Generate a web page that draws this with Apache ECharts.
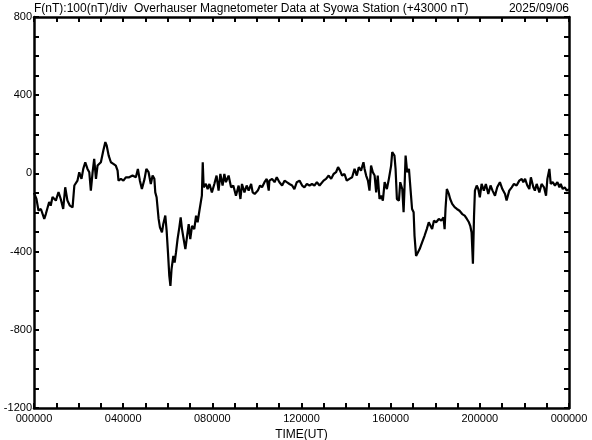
<!DOCTYPE html>
<html>
<head>
<meta charset="utf-8">
<script src="https://cdn.jsdelivr.net/npm/echarts@6/dist/echarts.min.js"></script>
<style>
html,body{margin:0;padding:0;background:#fff;}
#chart{width:592px;height:440px;}
</style>
</head>
<body>
<div id="chart"></div>
<script>
// Time of day in hours (UT)
const timesH = [
0.00,0.05,0.11,0.20,0.31,0.46,0.53,0.68,0.75,0.83,0.98,1.10,1.20,1.31,1.40,1.50,1.61,1.73,1.81,1.95,
2.03,2.13,2.21,2.30,2.40,2.48,2.55,2.63,2.70,2.78,2.85,2.93,3.00,3.11,3.20,3.26,3.35,3.45,3.56,3.67,
3.75,3.79,3.90,4.01,4.12,4.27,4.42,4.57,4.66,4.75,4.84,4.96,5.04,5.14,5.24,5.32,5.40,5.44,5.50,5.59,
5.65,5.74,5.80,5.89,5.95,6.01,6.07,6.12,6.17,6.25,6.31,6.37,6.44,6.52,6.58,6.64,6.70,6.79,6.86,6.94,
7.01,7.09,7.19,7.27,7.34,7.42,7.49,7.53,7.57,7.61,7.71,7.79,7.87,7.98,8.09,8.19,8.28,8.36,8.46,8.54,
8.61,8.73,8.84,8.94,9.06,9.18,9.26,9.33,9.44,9.54,9.63,9.74,9.81,9.90,10.04,10.14,10.23,10.34,10.44,10.53,
10.56,10.68,10.79,10.89,11.01,11.13,11.24,11.34,11.46,11.58,11.68,11.79,11.91,12.03,12.13,12.24,12.36,12.47,12.58,12.69,
12.81,12.88,12.99,13.10,13.22,13.33,13.44,13.55,13.64,13.73,13.82,13.93,14.03,14.15,14.27,14.38,14.48,14.57,14.67,14.78,
14.83,14.90,14.98,15.05,15.12,15.20,15.28,15.35,15.42,15.50,15.57,15.65,15.73,15.83,15.92,16.02,16.07,16.17,16.22,16.28,
16.37,16.43,16.52,16.58,16.62,16.67,16.74,16.82,16.89,16.96,17.03,17.07,17.14,17.22,17.30,17.41,17.52,17.62,17.71,17.77,
17.86,17.94,18.04,18.16,18.27,18.37,18.42,18.46,18.52,18.61,18.67,18.76,18.87,18.97,19.09,19.21,19.32,19.42,19.51,19.57,
19.63,19.69,19.74,19.78,19.86,19.93,20.00,20.08,20.18,20.27,20.38,20.48,20.57,20.68,20.78,20.90,21.01,21.13,21.20,21.32,
21.43,21.53,21.65,21.77,21.88,21.95,22.03,22.13,22.22,22.29,22.40,22.47,22.55,22.67,22.77,22.88,22.97,23.03,23.12,23.18,
23.27,23.37,23.48,23.57,23.63,23.72,23.81,23.90,24.00
];
// F deviation from 43000 nT
const fieldNT = [
-100,-105,-130,-190,-182,-233,-208,-146,-165,-121,-139,-95,-131,-182,-71,-139,-165,-174,-62,-37,
6,-28,23,57,23,6,-88,6,74,-28,40,32,57,117,160,143,91,57,49,40,
14,-37,-28,-37,-20,-20,-11,-20,23,-37,-80,-28,23,6,-54,-11,-28,-97,-122,-233,
-276,-302,-259,-216,-293,-404,-524,-575,-490,-422,-456,-404,-336,-276,-225,-285,-327,-387,-327,-259,
-336,-268,-285,-216,-250,-191,-182,-114,57,-71,-54,-80,-54,-97,-54,-11,-88,-3,-62,-3,
-45,-11,-71,-62,-114,-62,-131,-54,-97,-62,-88,-54,-97,-105,-88,-62,-71,-45,-28,-88,
-37,-28,-45,-20,-45,-62,-37,-45,-54,-62,-80,-45,-37,-62,-71,-54,-62,-54,-62,-45,
-62,-71,-37,-28,-11,-28,-3,6,32,14,-11,-3,-37,-28,-20,23,-11,32,14,57,
23,-11,-37,-88,40,6,-11,-97,-11,-131,-114,-139,-45,-80,-28,40,109,91,23,-131,
-139,-45,-80,-199,-80,91,6,23,-80,-182,-199,-319,-422,-413,-387,-353,-319,-285,-250,-242,
-285,-242,-250,-233,-242,-225,-285,-182,-80,-105,-131,-156,-173,-182,-191,-208,-216,-233,-250,-268,
-302,-462,-216,-88,-62,-80,-122,-54,-88,-54,-105,-62,-88,-114,-71,-45,-80,-105,-139,-88,
-71,-54,-62,-37,-28,-45,-28,-62,-80,-20,-71,-88,-54,-97,-54,-71,-114,-28,23,-54,
-45,-62,-45,-71,-54,-80,-71,-88,-80
];
const xTickLabels = ['000000','040000','080000','120000','160000','200000','000000'];
const yTickLabels = ['-1200','-800','-400','0','400','800'];
const titleText = 'F(nT):100(nT)/div  Overhauser Magnetometer Data at Syowa Station (+43000 nT)';
const dateText = '2025/09/06';

const seriesData = timesH.map((t, i) => [t, fieldNT[i]]);
const FONT = '"Liberation Sans", Arial, sans-serif';
const lineCol = '#000';

function xAxisCfg(pos, showLabels) {
  return {
    type: 'value', min: 0, max: 24, interval: 4, position: pos,
    axisLine: { show: true, onZero: false, lineStyle: { color: lineCol, width: 2.5 } },
    axisTick: { show: true, inside: true, length: 5, lineStyle: { color: lineCol, width: 2 } },
    minorTick: { show: true, splitNumber: 4, length: 5, lineStyle: { color: lineCol, width: 2 } },
    splitLine: { show: false },
    axisLabel: {
      show: showLabels, margin: 5, fontSize: 11, fontFamily: FONT, color: '#000',
      formatter: (v) => xTickLabels[Math.round(v / 4)]
    },
    name: showLabels ? 'TIME(UT)' : '',
    nameLocation: 'middle', nameGap: 20,
    nameTextStyle: { fontSize: 12, fontFamily: FONT, color: '#000' }
  };
}
function yAxisCfg(pos, showLabels) {
  return {
    type: 'value', min: -1200, max: 800, interval: 400, position: pos,
    axisLine: { show: true, onZero: false, lineStyle: { color: lineCol, width: 2.5 } },
    axisTick: { show: true, inside: true, length: 5, lineStyle: { color: lineCol, width: 2 } },
    minorTick: { show: true, splitNumber: 4, length: 5, lineStyle: { color: lineCol, width: 2 } },
    splitLine: { show: false },
    axisLabel: {
      show: showLabels, margin: 2, fontSize: 11, fontFamily: FONT, color: '#000',
      formatter: (v) => yTickLabels[Math.round((v + 1200) / 400)]
    }
  };
}

const chart = echarts.init(document.getElementById('chart'), null, { renderer: 'canvas' });
chart.setOption({
  animation: false,
  backgroundColor: '#fff',
  title: [
    { text: titleText, left: 34, top: 3, padding: 0,
      textStyle: { fontSize: 12, fontWeight: 'normal', fontFamily: FONT, color: '#000' } },
    { text: dateText, right: 23, top: 3, padding: 0,
      textStyle: { fontSize: 12, fontWeight: 'normal', fontFamily: FONT, color: '#000' } }
  ],
  grid: { left: 34, right: 23, top: 17, bottom: 32, containLabel: false, outerBoundsMode: 'none' },
  xAxis: [xAxisCfg('bottom', true), xAxisCfg('top', false)],
  yAxis: [yAxisCfg('left', true), yAxisCfg('right', false)],
  series: [{
    type: 'line', data: seriesData, xAxisIndex: 0, yAxisIndex: 0,
    showSymbol: false, symbol: 'none',
    lineStyle: { color: '#000', width: 2.2 }
  }]
});
</script>
</body>
</html>
